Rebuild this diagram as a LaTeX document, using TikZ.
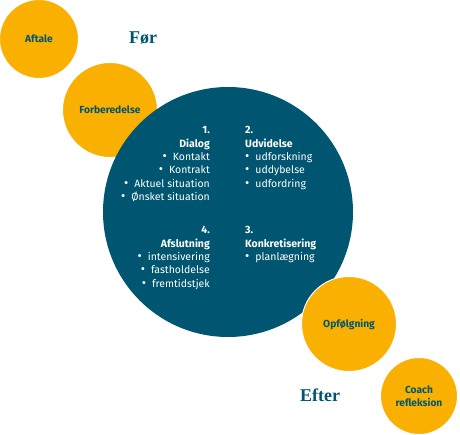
\documentclass[tikz,border=0pt]{standalone}
\usepackage{fontspec}
\setmainfont{Fira Sans}
\newfontfamily\titlefont{Liberation Serif}
\definecolor{teal}{HTML}{005670}
\definecolor{amber}{HTML}{F9B000}
\newcommand{\bul}{{\fontsize{13}{11}\selectfont•}\hspace{6pt}}
\begin{document}
\begin{tikzpicture}[x=1pt,y=-1pt,
  orange/.style={circle,fill=amber,draw=white,line width=1pt,inner sep=0pt},
  olabel/.style={text=teal,font=\fontsize{10.2}{12.5}\selectfont\bfseries,align=center},
  title/.style={text=teal,font=\titlefont\fontsize{18}{20}\selectfont\bfseries},
  lineR/.style={anchor=base east,inner sep=0pt,text=white,font=\fontsize{10.5}{11}\selectfont},
  lineL/.style={anchor=base west,inner sep=0pt,text=white,font=\fontsize{10.5}{11}\selectfont},
  hd/.style={font=\fontsize{10.5}{11}\selectfont\bfseries}]
\useasboundingbox (0,0) rectangle (460,435);
% circles
\node[orange,minimum size=79pt] (aftale) at (39,39) {};
\node[olabel] (aftaleT) at (aftale.center) {Aftale};
\node[orange,minimum size=95pt] (forb) at (110,110) {};
\node[olabel] (forbT) at (forb.center) {Forberedelse};
\node[circle,fill=teal,minimum size=250pt,inner sep=0pt] (big) at (228,212) {};
\node[orange,minimum size=95pt] (opf) at (349,324) {};
\node[olabel] (opfT) at (opf.center) {Opfølgning};
\node[orange,minimum size=77pt] (coach) at (419,396) {};
\node[olabel] (coachT) at (coach.center) {Coach\\refleksion};
% titles
\node[title] (foer) at (143,38) {Før};
\node[title] (efter) at (320,395) {Efter};
% block 1
\node[lineR,hd] (a1) at (210,134) {1.};
\node[lineR,hd] (a2) at (210,147.3) {Dialog};
\node[lineR] (a3) at (210,160.6) {\bul Kontakt};
\node[lineR] (a4) at (210,173.9) {\bul Kontrakt};
\node[lineR] (a5) at (210,187.2) {\bul Aktuel situation};
\node[lineR] (a6) at (210,200.5) {\bul Ønsket situation};
% block 2
\node[lineL,hd] (b1) at (245,134) {2.};
\node[lineL,hd] (b2) at (245,147.3) {Udvidelse};
\node[lineL] (b3) at (245,160.6) {\bul udforskning};
\node[lineL] (b4) at (245,173.9) {\bul uddybelse};
\node[lineL] (b5) at (245,187.2) {\bul udfordring};
% block 4
\node[lineR,hd] (d1) at (210,234) {4.};
\node[lineR,hd] (d2) at (210,247.3) {Afslutning};
\node[lineR] (d3) at (210,260.6) {\bul intensivering};
\node[lineR] (d4) at (210,273.9) {\bul fastholdelse};
\node[lineR] (d5) at (210,287.2) {\bul fremtidstjek};
% block 3
\node[lineL,hd] (c1) at (245,234) {3.};
\node[lineL,hd] (c2) at (245,247.3) {Konkretisering};
\node[lineL] (c3) at (245,260.6) {\bul planlægning};
\end{tikzpicture}
\end{document}
